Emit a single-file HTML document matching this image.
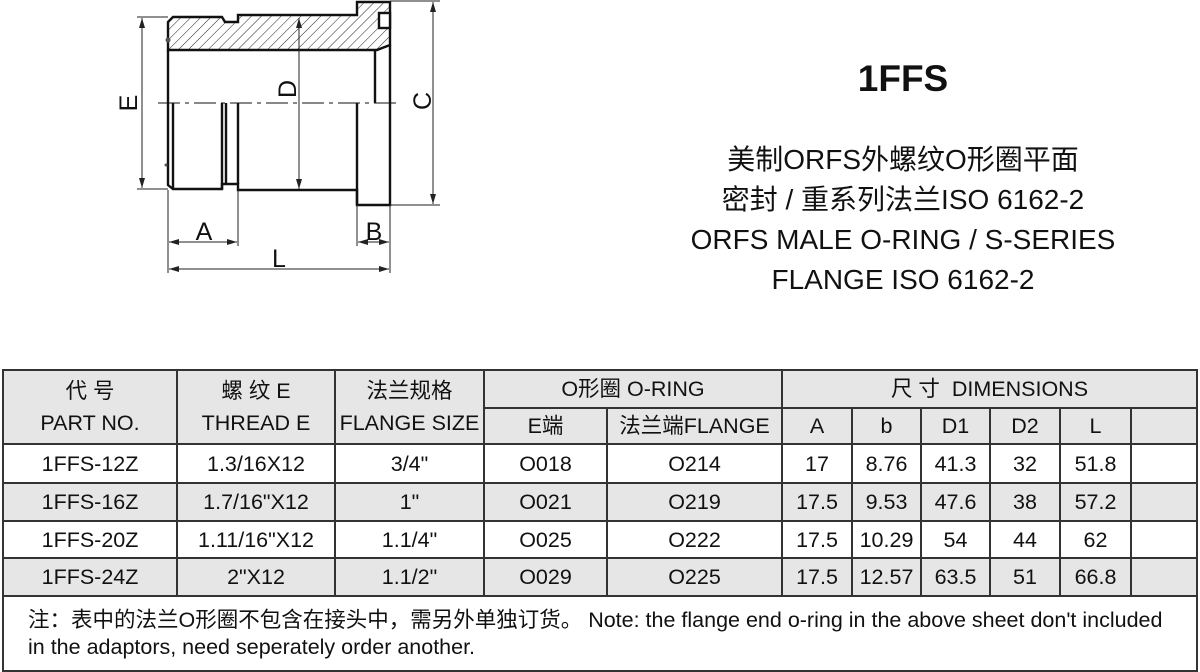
<!DOCTYPE html>
<html><head><meta charset="utf-8"><style>
body{margin:0;width:1200px;height:672px;background:#fff;position:relative;overflow:hidden;font-family:"Liberation Sans","Noto Sans CJK SC",sans-serif;color:#111}
.t{position:absolute;left:600px;width:606px;text-align:center;font-size:28px;line-height:40px;white-space:nowrap}
table{position:absolute;left:2px;top:369px;border-collapse:collapse;width:1196px;font-size:21.5px}
td{border:2px solid #333;text-align:center;padding:0;line-height:24px;white-space:nowrap}
.g td{background:#e6e6e6}
</style></head><body>
<svg width="460" height="290" style="position:absolute;left:0;top:0" xmlns="http://www.w3.org/2000/svg">
<defs><pattern id="h" width="7" height="7" patternUnits="userSpaceOnUse" patternTransform="rotate(45)"><line x1="0" y1="0" x2="0" y2="7" stroke="#222" stroke-width="1"/></pattern>
<marker id="a" markerWidth="10" markerHeight="6" refX="10" refY="3" orient="auto-start-reverse" markerUnits="userSpaceOnUse"><path d="M0,0 L10,3 L0,6z" fill="#222"/></marker></defs>
<g stroke="#111" fill="none" stroke-width="2.4">
<path d="M168,22 L173,17 L222,17 L225,22 L238,22 L238,15 L357,15 L357,2 L390,2 L390,45 L377,50 L168,50 Z" fill="url(#h)"/>
<rect x="379" y="13" width="11" height="15" fill="#fff"/>
<path d="M168,50 L168,185 L173,189 L222,189 L222,184 L238,184 L238,190 L357,190 L357,205 L390,205 L390,45"/>
<line x1="173" y1="103" x2="173" y2="189"/><line x1="222" y1="103" x2="222" y2="189"/>
<line x1="226" y1="103" x2="226" y2="184"/><line x1="238" y1="103" x2="238" y2="184"/>
<line x1="357" y1="103" x2="357" y2="205"/><line x1="375" y1="50" x2="375" y2="103"/>
</g>
<circle cx="168" cy="40" r="2.5" fill="#555"/><circle cx="166" cy="165" r="1.5" fill="#555"/>
<line x1="158" y1="103" x2="397" y2="103" stroke="#111" stroke-width="1" stroke-dasharray="22,5,4,5"/>
<g stroke="#222" stroke-width="1" fill="none">
<line x1="137" y1="17" x2="168" y2="17"/><line x1="137" y1="189" x2="168" y2="189"/>
<line x1="142" y1="18" x2="142" y2="188" marker-start="url(#a)" marker-end="url(#a)"/>
<line x1="299" y1="18" x2="299" y2="189" marker-start="url(#a)" marker-end="url(#a)"/>
<line x1="390" y1="1" x2="440" y2="1"/><line x1="390" y1="205" x2="440" y2="205"/>
<line x1="433" y1="2" x2="433" y2="204" marker-start="url(#a)" marker-end="url(#a)"/>
<line x1="168" y1="190" x2="168" y2="273"/><line x1="238" y1="190" x2="238" y2="246"/>
<line x1="357" y1="205" x2="357" y2="246"/><line x1="390" y1="205" x2="390" y2="273"/>
<line x1="169" y1="242" x2="237" y2="242" marker-start="url(#a)" marker-end="url(#a)"/>
<line x1="358" y1="242" x2="389" y2="242" marker-start="url(#a)" marker-end="url(#a)"/>
<line x1="169" y1="269" x2="389" y2="269" marker-start="url(#a)" marker-end="url(#a)"/>
</g>
<g font-family="Liberation Sans" font-size="25" fill="#111" text-anchor="middle">
<text x="204" y="240">A</text><text x="374" y="240">B</text><text x="279" y="267">L</text>
<text transform="translate(137,103) rotate(-90)">E</text>
<text transform="translate(296,89) rotate(-90)">D</text>
<text transform="translate(431,101) rotate(-90)">C</text>
</g></svg>
<div style="position:absolute;left:680px;width:446px;top:58px;text-align:center;font-size:37px;font-weight:bold">1FFS</div>
<div class="t" style="top:140px">美制ORFS外螺纹O形圈平面</div>
<div class="t" style="top:180px">密封 / 重系列法兰ISO 6162-2</div>
<div class="t" style="top:220px">ORFS MALE O-RING / S-SERIES</div>
<div class="t" style="top:260px">FLANGE ISO 6162-2</div>
<table>
<colgroup><col style="width:174px"><col style="width:158px"><col style="width:149px"><col style="width:123px"><col style="width:175px"><col style="width:70px"><col style="width:69px"><col style="width:69px"><col style="width:70px"><col style="width:71px"><col></colgroup>
<tr class="g" style="height:38px"><td rowspan="2" style="line-height:32px">代 号<br>PART NO.</td><td rowspan="2" style="line-height:32px">螺 纹 E<br>THREAD E</td><td rowspan="2" style="line-height:32px">法兰规格<br>FLANGE SIZE</td><td colspan="2">O形圈 O-RING</td><td colspan="6">尺 寸&nbsp; DIMENSIONS</td></tr>
<tr class="g" style="height:36px"><td>E端</td><td>法兰端FLANGE</td><td>A</td><td>b</td><td>D1</td><td>D2</td><td>L</td><td></td></tr>
<tr style="height:39px"><td>1FFS-12Z</td><td>1.3/16X12</td><td>3/4"</td><td>O018</td><td>O214</td><td>17</td><td>8.76</td><td>41.3</td><td>32</td><td>51.8</td><td></td></tr>
<tr class="g" style="height:38px"><td>1FFS-16Z</td><td>1.7/16"X12</td><td>1"</td><td>O021</td><td>O219</td><td>17.5</td><td>9.53</td><td>47.6</td><td>38</td><td>57.2</td><td></td></tr>
<tr style="height:37px"><td>1FFS-20Z</td><td>1.11/16"X12</td><td>1.1/4"</td><td>O025</td><td>O222</td><td>17.5</td><td>10.29</td><td>54</td><td>44</td><td>62</td><td></td></tr>
<tr class="g" style="height:38px"><td>1FFS-24Z</td><td>2"X12</td><td>1.1/2"</td><td>O029</td><td>O225</td><td>17.5</td><td>12.57</td><td>63.5</td><td>51</td><td>66.8</td><td></td></tr>
<tr style="height:75px"><td colspan="11" style="text-align:left;vertical-align:top;padding:10px 0 0 24px;font-size:21.5px;line-height:27px">注：表中的法兰O形圈不包含在接头中，需另外单独订货。 Note: the flange end o-ring in the above sheet don't included<br>in the adaptors, need seperately order another.</td></tr>
</table>
</body></html>
